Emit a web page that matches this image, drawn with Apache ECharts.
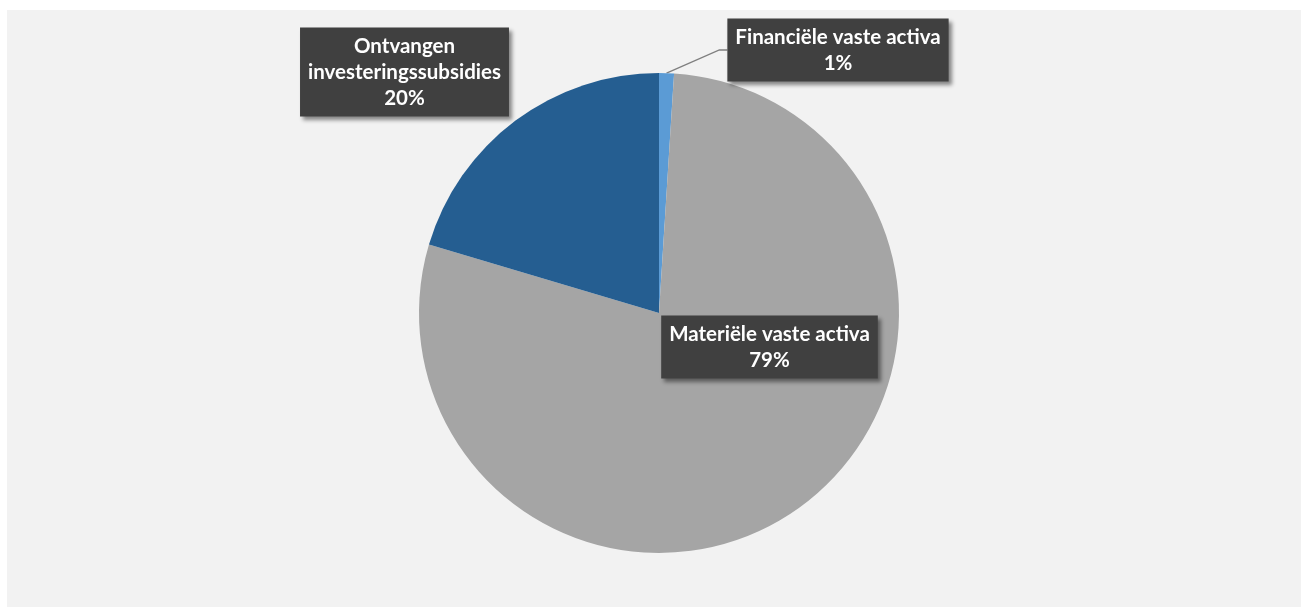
<!DOCTYPE html>
<html><head><meta charset="utf-8">
<script src="https://cdn.jsdelivr.net/npm/echarts@6/dist/echarts.min.js"></script>
<style>html,body{margin:0;padding:0;background:#fff}#c{width:1309px;height:610px}</style>
</head><body><div id="c"></div>
<script>
const categories = ['Financiële vaste activa', 'Materiële vaste activa', 'Ontvangen investeringssubsidies'];
const values = [1.0, 78.6, 20.4];
const percentLabels = ['1%', '79%', '20%'];
const colors = ['#5b9bd5', '#a5a5a5', '#255e91'];
const labelPos = [[838, 50], [769.5, 347], [404.5, 72]];

const chart = echarts.init(document.getElementById('c'));
chart.setOption({
  animation: false,
  backgroundColor: '#ffffff',
  graphic: [{type: 'rect', z: -10, shape: {x: 7, y: 10, width: 1294, height: 597}, style: {fill: '#f2f2f2'}}],
  series: [{
    type: 'pie',
    center: [659, 313],
    radius: [0, 240],
    startAngle: 90,
    clockwise: true,
    data: categories.map((c, i) => ({
      name: c, value: values[i], itemStyle: {color: colors[i]},
      labelLine: {show: i === 0}
    })),
    label: {
      show: true,
      formatter: p => p.name === 'Ontvangen investeringssubsidies'
        ? 'Ontvangen\ninvesteringssubsidies\n' + percentLabels[p.dataIndex]
        : p.name + '\n' + percentLabels[p.dataIndex],
      color: '#ffffff',
      fontFamily: 'Lato',
      fontWeight: 'bold',
      fontSize: 20.5,
      lineHeight: 26,
      align: 'center',
      backgroundColor: '#404040',
      padding: [6, 8, 5, 8],
      shadowColor: 'rgba(0,0,0,0.45)',
      shadowBlur: 4,
      shadowOffsetX: 3,
      shadowOffsetY: 3
    },
    labelLine: {lineStyle: {color: '#7f7f7f', width: 1.3}, length: 25, length2: 8, smooth: false},
    labelLayout: p => ({x: labelPos[p.dataIndex][0], y: labelPos[p.dataIndex][1], align: 'center', verticalAlign: 'middle'})
  }]
});
</script></body></html>
